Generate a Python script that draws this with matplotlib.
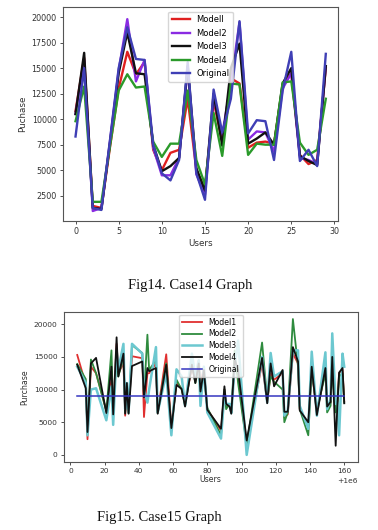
import matplotlib
matplotlib.use("Agg")
import matplotlib.pyplot as plt

# ---------------- Fig14 data ----------------
users14 = list(range(30))
m1_14 = [10800, 16000, 1500, 1300, 7300, 13000, 16600, 14400, 15600, 7000,
         5000, 6700, 7000, 12000, 5000, 3200, 11800, 7700, 14000, 13500,
         7200, 7700, 7800, 7600, 13300, 14500, 6500, 5600, 6000, 15000]
m2_14 = [10500, 15800, 1000, 1300, 7900, 14800, 19800, 13700, 15800, 7200,
         4500, 4500, 6200, 15000, 4600, 2600, 12000, 8500, 13500, 19500,
         8000, 8800, 8700, 6800, 13000, 14500, 6200, 6000, 5600, 15200]
m3_14 = [10500, 16500, 1300, 1200, 7700, 14500, 18500, 14500, 14400, 7500,
         4900, 5400, 6200, 15200, 5200, 3000, 12500, 7400, 15000, 17400,
         7600, 8100, 8700, 7500, 13500, 15000, 6400, 5900, 5500, 15200]
m4_14 = [9800, 13200, 1900, 1900, 7400, 12800, 14400, 13100, 13200, 7800,
         6300, 7600, 7600, 12800, 6000, 3600, 10600, 6400, 13500, 13400,
         6500, 7600, 7500, 7500, 13600, 13700, 7700, 6500, 7000, 12000]
orig_14 = [8300, 15000, 1300, 1100, 8000, 15000, 19000, 15900, 15800, 7500,
           4700, 4000, 6000, 15600, 4700, 2100, 12900, 8700, 12000, 19600,
           8600, 9900, 9800, 6000, 12800, 16600, 5900, 7000, 5400, 16400]
labels14 = ["Modell", "Model2", "Model3", "Model4", "Original"]

# ---------------- Fig15 data ----------------
users15 = [1000004, 1000009, 1000010, 1000012, 1000015, 1000021, 1000024, 1000025,
           1000027, 1000028, 1000031, 1000032, 1000033, 1000034, 1000036, 1000042,
           1000043, 1000045, 1000046, 1000050, 1000051, 1000056, 1000059, 1000062,
           1000065, 1000067, 1000071, 1000073, 1000075, 1000076, 1000078, 1000080,
           1000088, 1000090, 1000091, 1000093, 1000094, 1000096, 1000098, 1000103,
           1000112, 1000115, 1000117, 1000119, 1000124, 1000125, 1000127, 1000130,
           1000133, 1000134, 1000139, 1000141, 1000144, 1000149, 1000150, 1000152,
           1000153, 1000155, 1000156, 1000157, 1000159, 1000160]
m1_15 = [15300, 10800, 2400, 13500, 12500, 6800, 11500, 6500, 17000, 12500, 14000, 6000,
         10500, 6500, 15100, 14800, 5800, 12500, 12500, 14000, 6500, 15400, 4300, 11000,
         10200, 7800, 13500, 11500, 14500, 10500, 13500, 7000, 3700, 10000, 7500, 7500,
         6500, 14000, 12000, 1800, 14000, 8000, 12500, 11500, 12500, 5800, 6200, 15500,
         14000, 7000, 4500, 13000, 6500, 13000, 7000, 8000, 14500, 7000, 7800, 12500,
         13000, 8200]
m2_15 = [13900, 11600, 3200, 14600, 12500, 6700, 16000, 6500, 15000, 12000, 15000, 6500,
         10500, 6400, 16800, 15600, 9000, 18400, 13000, 14500, 6400, 14000, 3800, 11500,
         10000, 7600, 14000, 11000, 13500, 10000, 12500, 7200, 3000, 10000, 7000, 7800,
         6500, 16000, 11000, 1500, 17200, 8500, 12000, 11200, 10000, 5000, 6500, 20800,
         13500, 7000, 3000, 13000, 6800, 12500, 6500, 7500, 13000, 6500, 7500, 12000,
         12500, 8000]
m3_15 = [13500, 11000, 3000, 10000, 10200, 5300, 10500, 4600, 16000, 13000, 17000, 7000,
         11000, 6500, 17000, 15500, 10000, 8000, 10000, 16500, 6500, 12500, 3000, 13100,
         12000, 7500, 15500, 12000, 14500, 7500, 13500, 6500, 2500, 9500, 7800, 7800,
         6400, 13500, 17500, 0, 15000, 8000, 15600, 12000, 12800, 6000, 6800, 16000,
         16000, 7500, 4000, 15800, 6000, 15700, 7000, 8500, 18600, 7800, 8000, 3000,
         15500, 13500]
m4_15 = [13800, 10200, 3500, 14000, 14850, 6400, 13500, 6200, 18000, 12000, 15500, 6300,
         11000, 6300, 13600, 14300, 8800, 13300, 12800, 13300, 6300, 13800, 4100, 10700,
         10100, 7400, 13800, 11000, 14000, 9700, 13000, 6900, 4000, 10500, 7800, 7400,
         6300, 14600, 13000, 2200, 14850, 7900, 14000, 10500, 13000, 6600, 6600, 16500,
         14300, 6800, 5000, 13500, 6100, 13300, 7400, 8100, 15000, 1400, 7700, 12600,
         13300, 7900]
orig_15 = [9050, 9050, 9050, 9050, 9050, 9050, 9050, 9050, 9050, 9050, 9050, 9050,
           9050, 9050, 9050, 9050, 9050, 9050, 9050, 9050, 9050, 9050, 9050, 9050,
           9050, 9050, 9050, 9050, 9050, 9050, 9050, 9050, 9050, 9050, 9050, 9050,
           9050, 9050, 9050, 9050, 9050, 9050, 9050, 9050, 9050, 9050, 9050, 9050,
           9050, 9050, 9050, 9050, 9050, 9050, 9050, 9050, 9050, 9050, 9050, 9050,
           9050, 9050]
labels15 = ["Model1", "Model2", "Model3", "Model4", "Original"]

fig = plt.figure(figsize=(3.78, 5.30), dpi=100)
fig.patch.set_facecolor("white")

tick_fs = 5.8
spine_col = "#555555"

# ---------------- top chart ----------------
ax1 = fig.add_axes([0.1667, 0.583, 0.7283, 0.403])
cols14 = ["#e02020", "#8a2be2", "#111111", "#2a9a2a", "#3f3fb5"]
for ys, c, lab in zip([m1_14, m2_14, m3_14, m4_14, orig_14], cols14, labels14):
    ax1.plot(users14, ys, color=c, lw=1.7, label=lab)
ax1.set_xticks([0, 5, 10, 15, 20, 25, 30])
ax1.set_yticks([2500, 5000, 7500, 10000, 12500, 15000, 17500, 20000])
ax1.set_ylim(20, 20950)
ax1.tick_params(labelsize=tick_fs, length=2.5, width=0.6, colors="#333333", pad=2)
ax1.set_xlabel("Users", fontsize=6.3, color="#333333", labelpad=2)
ax1.set_ylabel("Puchase", fontsize=6.3, color="#333333", labelpad=3)
for s in ax1.spines.values():
    s.set_color(spine_col)
    s.set_linewidth(0.8)
ax1.legend(loc="upper center", fontsize=6.0, frameon=True, handlelength=2.2,
           borderaxespad=0.5, labelspacing=0.55, framealpha=0.8, edgecolor="#cccccc")

fig.text(0.502, 1 - 286 / 530, "Fig14. Case14 Graph", ha="center", va="center",
         family="Liberation Serif", fontsize=10.5, color="#111111")

# ---------------- bottom chart ----------------
ax2 = fig.add_axes([0.169, 0.1289, 0.777, 0.282])
cols15 = ["#e03030", "#2e8b3e", "#6cc8d0", "#111111", "#3535c0"]
lws15 = [1.3, 1.3, 1.8, 1.3, 1.1]
for ys, c, lab, lw in zip([m1_15, m2_15, m3_15, m4_15, orig_15], cols15, labels15, lws15):
    ax2.plot(users15, ys, color=c, lw=lw, label=lab)
ax2.set_xticks([1000000, 1000020, 1000040, 1000060, 1000080, 1000100,
                1000120, 1000140, 1000160])
ax2.set_yticks([0, 5000, 10000, 15000, 20000])
ax2.tick_params(labelsize=5.4, length=2.5, width=0.6, colors="#333333", pad=2)
ax2.xaxis.get_offset_text().set_fontsize(5.4)
ax2.set_xlabel("Users", fontsize=5.6, color="#333333", labelpad=1)
ax2.set_ylabel("Purchase", fontsize=5.6, color="#333333", labelpad=3)
for s in ax2.spines.values():
    s.set_color(spine_col)
    s.set_linewidth(0.8)
ax2.legend(loc="upper center", fontsize=5.6, frameon=True, handlelength=2.6,
           borderaxespad=0.3, labelspacing=0.35, framealpha=0.8, edgecolor="#cccccc")

fig.text(0.422, 1 - 517 / 530, "Fig15. Case15 Graph", ha="center", va="center",
         family="Liberation Serif", fontsize=10.5, color="#111111")

fig.savefig("out.png", dpi=100, facecolor="white")
